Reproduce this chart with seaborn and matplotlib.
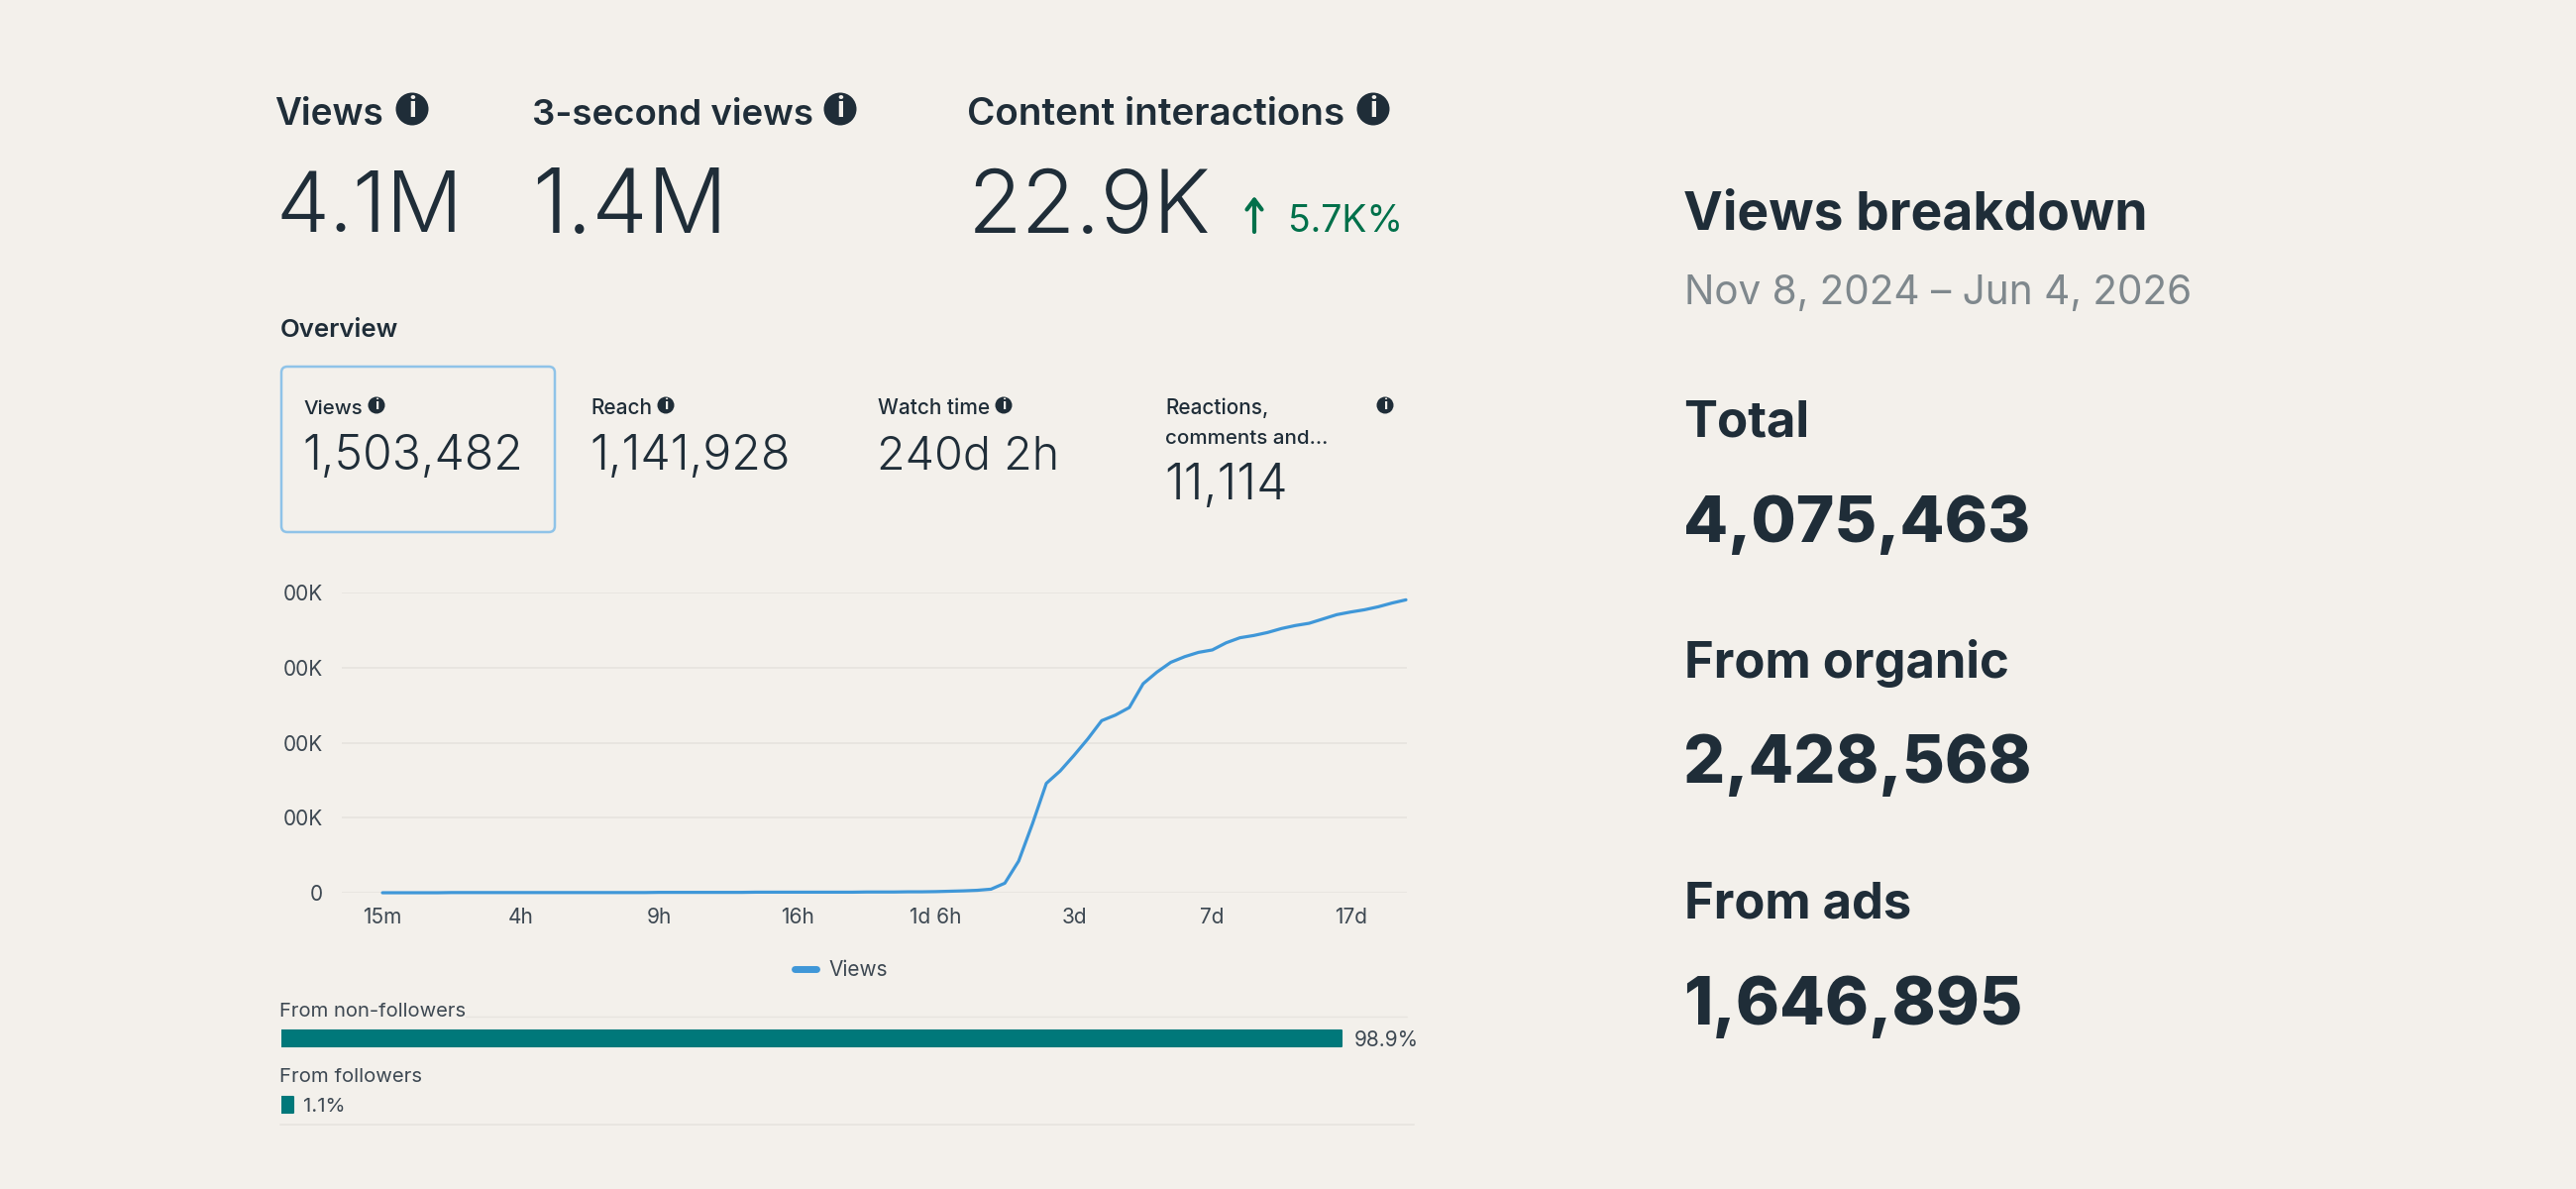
import pandas as pd
import matplotlib.pyplot as plt
from matplotlib.patches import Circle, FancyBboxPatch
import seaborn as sns

BG = '#F3F0EB'
INK = '#1F2D38'
TICK = '#3D4852'
GREY = '#7F888D'
GREEN = '#00704A'
BLUE = '#3F97D8'
TEAL = '#00787A'
RULE = '#E8E5E0'

# chart values (thousands of views)
views = [0, 0, 0, 0, 0, 1, 1, 1, 1, 1,
         1, 1, 1, 1, 1, 1, 1, 1, 1, 1,
         2, 2, 2, 2, 2, 2, 2, 3, 3, 3,
         3, 3, 3, 3, 3, 4, 4, 4, 5, 5,
         6, 8, 10, 13, 19, 51, 169, 368, 583, 649,
         732, 820, 917, 947, 987, 1114, 1176, 1228, 1258, 1281,
         1294, 1332, 1359, 1371, 1387, 1408, 1424, 1436, 1459, 1482,
         1496, 1508, 1524, 1544, 1561]
x_labels = ['15m', '4h', '9h', '16h', '1d 6h', '3d', '7d', '17d']
y_values = [0, 400, 800, 1200, 1600]
y_labels = ['0', '00K', '00K', '00K', '00K']
sources = ['From non-followers', 'From followers']
shares = [98.9, 1.1]

sns.set_theme(style='white', rc={'figure.facecolor': BG, 'axes.facecolor': 'none'})
plt.rcParams['font.family'] = ['Inter', 'DejaVu Sans']

W, H = 2600, 1200
fig = plt.figure(figsize=(W / 100, H / 100), dpi=100)


def px_axes(x0, y0, x1, y1):
    return fig.add_axes([x0 / W, 1 - y1 / H, (x1 - x0) / W, (y1 - y0) / H])


# line chart
ax = px_axes(345, 598, 1420, 901)
df = pd.DataFrame({'step': range(len(views)), 'Views': views})
sns.lineplot(data=df, x='step', y='Views', color=BLUE, linewidth=2.3, label='Views', ax=ax, clip_on=False)
ax.set_xlim(-2.94, 74.07)
ax.set_ylim(0, 1600)
ax.set_xticks(range(0, 80, 10)[:len(x_labels)], x_labels)
ax.set_yticks(y_values, y_labels)
ax.set_xlabel('')
ax.set_ylabel('')
ax.tick_params(axis='y', length=0, pad=13.5, labelsize=15, labelcolor=TICK)
ax.tick_params(axis='x', length=0, pad=10.5, labelsize=15, labelcolor=TICK)
ax.grid(axis='y', color=RULE, linewidth=1.4)
ax.set_axisbelow(True)
sns.despine(ax=ax, left=True, bottom=True)
leg = ax.legend(loc='center', bbox_to_anchor=(849 / W, 1 - 979 / H), bbox_transform=fig.transFigure,
                frameon=False, fontsize=15, handlelength=1.1, handletextpad=0.6, labelcolor=TICK)
leg.get_lines()[0].set_linewidth(5)

# followers bars
ax_bars = px_axes(284, 1015, 1384, 1148.5)
bars = pd.DataFrame({'source': sources, 'share': shares})
sns.barplot(data=bars, y='source', x='share', color=TEAL, saturation=1, width=0.24, ax=ax_bars)
for bar in ax_bars.patches:
    bar.set(edgecolor=TEAL, linewidth=1.5, joinstyle='round')
ax_bars.set_xlim(0, 101.66)
ax_bars.set_ylim(1.5, -0.5)
ax_bars.axis('off')

# everything else is laid out in pixels on a full-size overlay
page = px_axes(0, 0, W, H)
page.set_xlim(0, W)
page.set_ylim(H, 0)
page.axis('off')
renderer = fig.canvas.get_renderer()


def put(s, x0, x1, base, weight=400, color=INK, size=20):
    # scale the size so the inked string spans x0..x1 like the reference
    t = page.text(x0, base + 1.5, s, fontsize=size, fontweight=weight, color=color, ha='left', va='baseline')
    w = t.get_window_extent(renderer).width
    size = size * (x1 - x0) / w
    bleed = 0.045 * size * 100 / 72
    t.set_x(x0 - bleed)
    t.set_fontsize(size * (x1 - x0 + 2 * bleed) / (x1 - x0))
    return t


def info(x, y, r):
    page.add_patch(Circle((x, y), r, color=INK, lw=0))
    page.text(x, y, 'i', color=BG, fontsize=r * 1.25, fontweight='bold', ha='center', va='center')


# headline numbers
put('Views', 279, 386, 124, 600)
put('3-second views', 539, 820, 124, 600)
put('Content interactions', 978, 1356, 124, 600)
info(416, 110, 16.5)
info(848, 110, 16.5)
info(1386, 110, 16.5)
put('4.1M', 282, 463, 233, 300)
put('1.4M', 541, 730, 233, 300)
put('22.9K', 981, 1218, 233, 300)
page.annotate('', xy=(1266, 198), xytext=(1266, 234),
              arrowprops=dict(arrowstyle='->,head_width=0.45,head_length=0.6', color=GREEN, lw=3, shrinkA=0, shrinkB=0))
put('5.7K%', 1302, 1415, 233, 400, GREEN)

# overview cards
put('Overview', 284, 401, 338, 600)
page.add_patch(FancyBboxPatch((284, 370), 276, 167, boxstyle='round,pad=0,rounding_size=6',
                              fc='none', ec='#8FC3E8', lw=1.8))
put('Views', 307, 365, 416, 500)
info(380, 409, 8.5)
put('1,503,482', 307, 525, 472, 300)
put('Reach', 597, 657, 416, 500)
info(672, 409, 8.5)
put('1,141,928', 598, 796, 472, 300)
put('Watch time', 887, 998, 416, 500)
info(1013, 409, 8.5)
put('240d 2h', 887, 1067, 472, 300)
put('Reactions,', 1177, 1279, 416, 500)
put('comments and…', 1177, 1339, 446, 500)
info(1398, 409, 8.5)
put('11,114', 1177, 1297, 502, 300)

# bar captions
put('From non-followers', 283, 470, 1025, 400, TICK)
put('98.9%', 1368, 1431, 1055, 400, TICK)
put('From followers', 283, 425, 1091, 400, TICK)
put('1.1%', 307, 348, 1121, 400, TICK)
page.plot([470, 1420], [1026, 1026], color=RULE, lw=1)
page.plot([283, 1427], [1135, 1135], color=RULE, lw=1.4)

# right column
put('Views breakdown', 1701, 2165, 230, 700)
put('Nov 8, 2024 – Jun 4, 2026', 1702, 2212, 305, 400, GREY)
put('Total', 1701, 1824, 439, 700)
put('4,075,463', 1702, 2046, 545, 800)
put('From organic', 1702, 2027, 682, 700)
put('2,428,568', 1702, 2048, 789, 800)
put('From ads', 1702, 1928, 925, 700)
put('1,646,895', 1702, 2039, 1032, 800)

fig.savefig('out.png', dpi=100, facecolor=BG)
